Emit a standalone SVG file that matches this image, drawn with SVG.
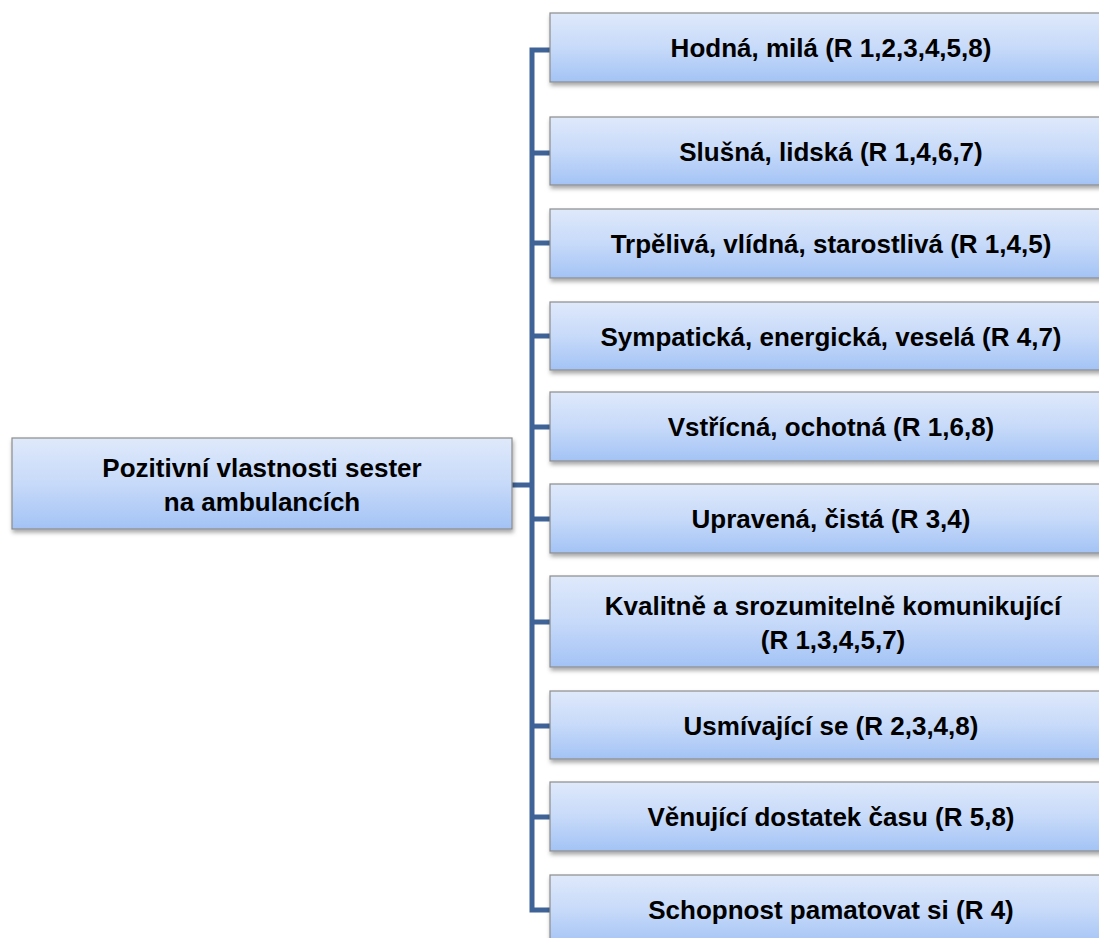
<svg xmlns="http://www.w3.org/2000/svg" width="1099" height="938" viewBox="0 0 1099 938">
<style>
.box{fill:url(#g);stroke:#8c8c8c;stroke-width:1.2;filter:url(#sh)}
.t{font-family:"Liberation Sans",Arial,sans-serif;font-weight:bold;font-size:26px;fill:#000;text-anchor:middle}
.c{fill:none;stroke:#3f6397;stroke-width:5}
</style>
<defs>
<linearGradient id="g" x1="0" y1="0" x2="0" y2="1">
<stop offset="0" stop-color="#dfe9fb"/>
<stop offset="0.5" stop-color="#c7daf9"/>
<stop offset="1" stop-color="#a3c3f5"/>
</linearGradient>
<filter id="sh" x="-5%" y="-10%" width="110%" height="130%">
<feDropShadow dx="1" dy="3" stdDeviation="2" flood-color="#000" flood-opacity="0.35"/>
</filter>
</defs>
<rect width="1099" height="938" fill="#fff"/>
<g id="connectors">
<path class="c" d="M550 50 H532 V910 H550"/>
<path class="c" d="M532 153 H550 M532 243 H550 M532 336 H550 M532 427 H550 M532 519 H550 M532 622 H550 M532 726 H550 M532 817 H550"/>
<path class="c" d="M512 485 H532"/>
</g>
<g id="root">
<rect class="box" x="12" y="438" width="500" height="91"/>
<text class="t" x="262" y="477">Pozitivní vlastnosti sester</text>
<text class="t" x="262" y="511">na ambulancích</text>
</g>
<g id="n1">
<rect class="box" x="550" y="13" width="562" height="69"/>
<text class="t" x="831" y="57">Hodná, milá (R 1,2,3,4,5,8)</text>
</g>
<g id="n2">
<rect class="box" x="550" y="117" width="562" height="68"/>
<text class="t" x="831" y="161">Slušná, lidská (R 1,4,6,7)</text>
</g>
<g id="n3">
<rect class="box" x="550" y="209" width="562" height="69"/>
<text class="t" x="831" y="253">Trpělivá, vlídná, starostlivá (R 1,4,5)</text>
</g>
<g id="n4">
<rect class="box" x="550" y="302" width="562" height="68"/>
<text class="t" x="831" y="346">Sympatická, energická, veselá (R 4,7)</text>
</g>
<g id="n5">
<rect class="box" x="550" y="392" width="562" height="69"/>
<text class="t" x="831" y="436">Vstřícná, ochotná (R 1,6,8)</text>
</g>
<g id="n6">
<rect class="box" x="550" y="484" width="562" height="69"/>
<text class="t" x="831" y="528">Upravená, čistá (R 3,4)</text>
</g>
<g id="n7">
<rect class="box" x="550" y="576" width="562" height="91"/>
<text class="t" x="833" y="615">Kvalitně a srozumitelně komunikující</text>
<text class="t" x="833" y="649">(R 1,3,4,5,7)</text>
</g>
<g id="n8">
<rect class="box" x="550" y="691" width="562" height="68"/>
<text class="t" x="831" y="735">Usmívající se (R 2,3,4,8)</text>
</g>
<g id="n9">
<rect class="box" x="550" y="782" width="562" height="69"/>
<text class="t" x="831" y="826">Věnující dostatek času (R 5,8)</text>
</g>
<g id="n10">
<rect class="box" x="550" y="875" width="562" height="70"/>
<text class="t" x="831" y="919">Schopnost pamatovat si (R 4)</text>
</g>
</svg>
